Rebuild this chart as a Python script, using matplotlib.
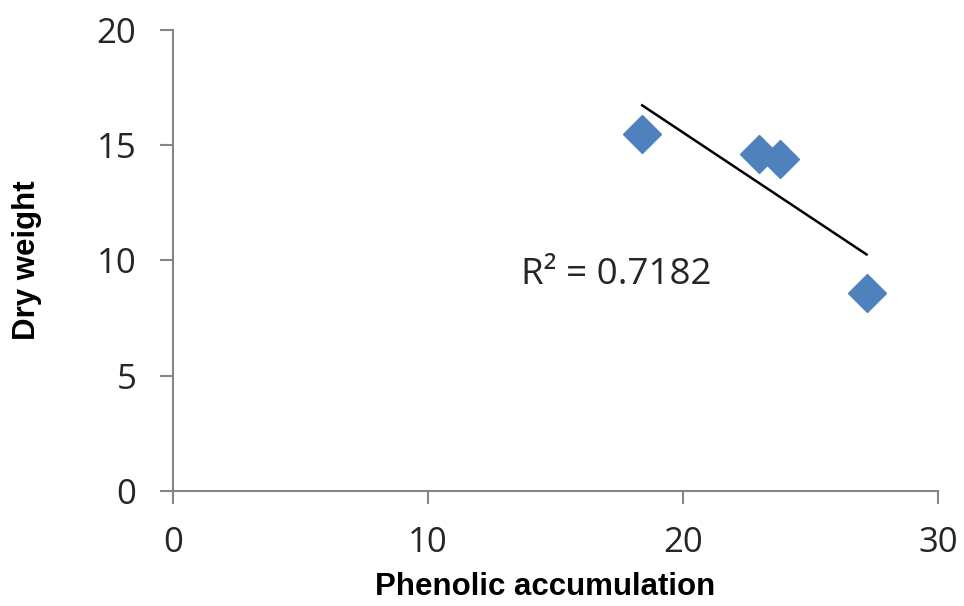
import numpy as np
import matplotlib
matplotlib.use("Agg")
import matplotlib.pyplot as plt

# data
phenolic = [18.4, 23.0, 23.8, 27.2]
dry_weight = [15.5, 14.6, 14.4, 8.6]
x_ticks = [0, 10, 20, 30]
y_ticks = [0, 5, 10, 15, 20]
r2_label = "R² = 0.7182"

fig = plt.figure(figsize=(9.64, 6.06), dpi=100)
ax = fig.add_axes([0.1795, 0.1898, 0.7935, 0.7607])

ax.plot(phenolic, dry_weight, linestyle="none", marker="D", markersize=19.5,
        color="#4F81BD", markeredgecolor="#4F81BD", zorder=3)

# linear trendline
slope, intercept = np.polyfit(phenolic, dry_weight, 1)
xs = np.array([min(phenolic), max(phenolic)])
ax.plot(xs, slope * xs + intercept, color="black", linewidth=1.8, zorder=2)

ax.text(13.65, 8.96, r2_label, fontsize=26.5, family="Open Sans", color="#262626",
        va="baseline", ha="left")

ax.set_xlim(0, 30)
ax.set_ylim(0, 20)
ax.set_xticks(x_ticks)
ax.set_yticks(y_ticks)
ax.tick_params(axis="both", colors="#868686", labelcolor="#262626", labelsize=25,
               length=9.5, width=1.5, direction="out")
ax.tick_params(axis="x", pad=16)
ax.tick_params(axis="y", pad=17)
for lab in ax.get_xticklabels() + ax.get_yticklabels():
    lab.set_family("Open Sans")

for side in ["top", "right"]:
    ax.spines[side].set_visible(False)
for side in ["left", "bottom"]:
    ax.spines[side].set_color("#868686")
    ax.spines[side].set_linewidth(1.5)

ax.set_xlabel("Phenolic accumulation", fontsize=22.5, fontweight="bold",
              family="Liberation Sans")
ax.set_ylabel("Dry weight", fontsize=22.5, fontweight="bold",
              family="Liberation Sans")
ax.xaxis.set_label_coords(0.486, -0.176)
ax.yaxis.set_label_coords(-0.171, 0.5)

fig.savefig("out.png", dpi=100)
